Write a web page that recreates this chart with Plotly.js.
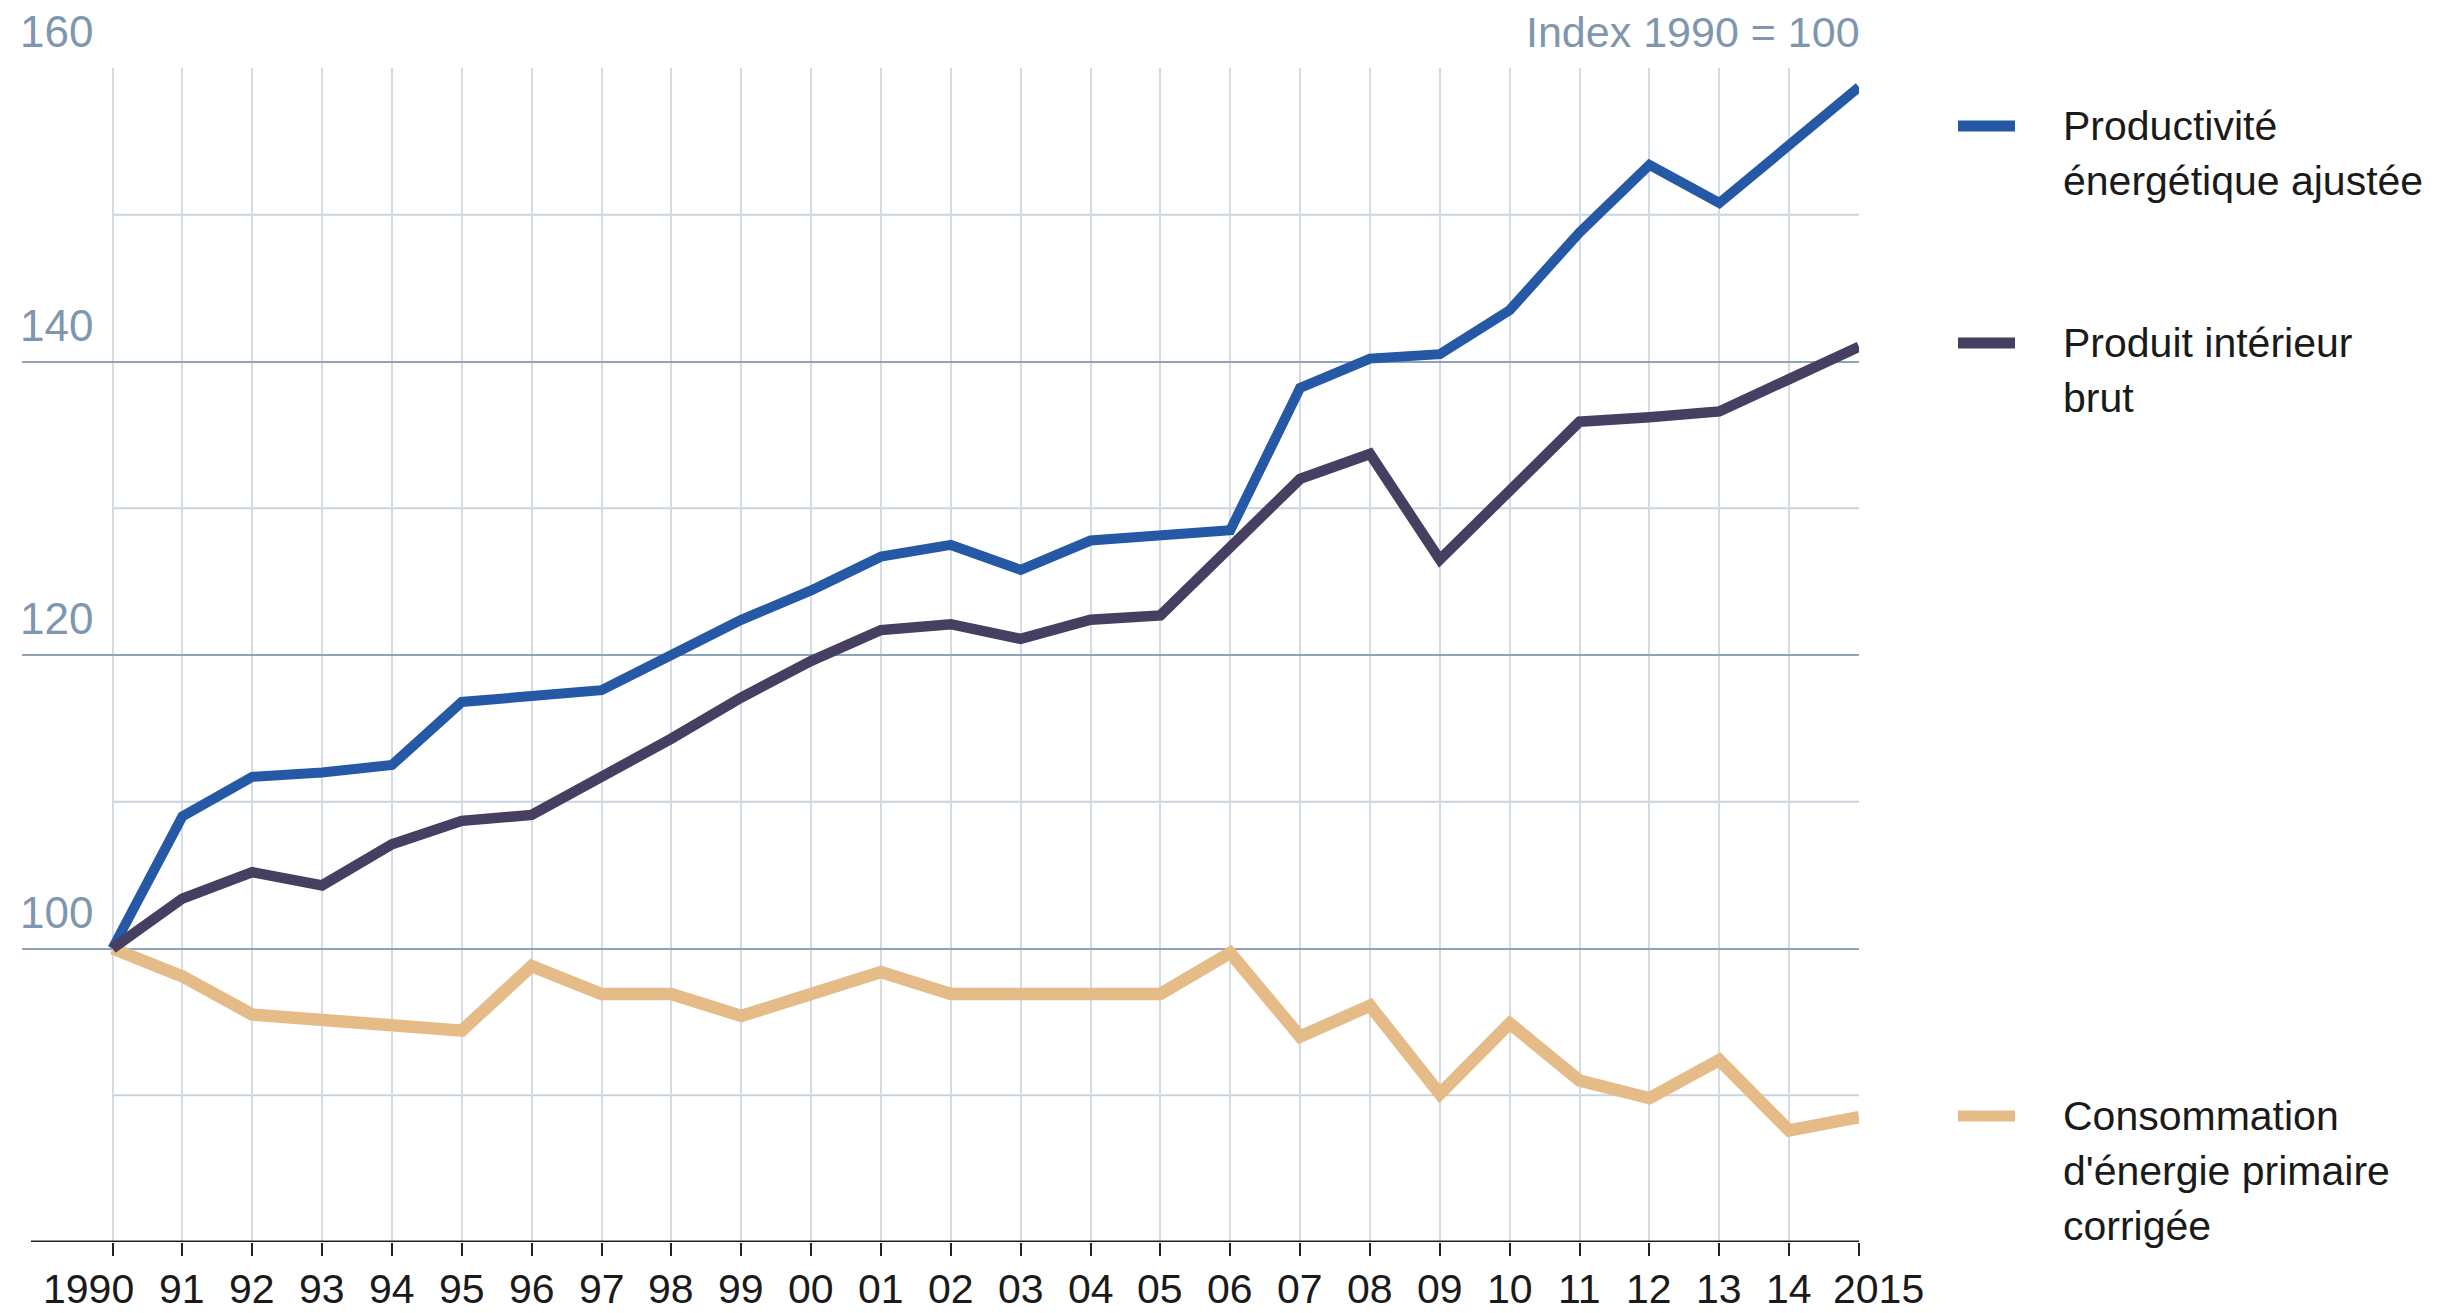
<!DOCTYPE html>
<html>
<head>
<meta charset="utf-8">
<script src="https://cdn.plot.ly/plotly-3.0.1.min.js"></script>
<style>
  html, body { margin: 0; padding: 0; background: #ffffff; }
  #chart { width: 2450px; height: 1313px; }
</style>
</head>
<body>
<div id="chart"></div>
<script>
// ---- Data ----
const years = [1990,1991,1992,1993,1994,1995,1996,1997,1998,1999,2000,2001,2002,2003,2004,2005,2006,2007,2008,2009,2010,2011,2012,2013,2014,2015];
const xTickLabels = ['1990','91','92','93','94','95','96','97','98','99','00','01','02','03','04','05','06','07','08','09','10','11','12','13','14','2015'];
const productivite = [100,109.0,111.7,112.0,112.5,116.8,117.2,117.6,120.0,122.4,124.4,126.7,127.5,125.8,127.8,128.1,128.5,138.2,140.2,140.5,143.5,148.8,153.4,150.8,154.8,158.7];
const pib = [100,103.4,105.2,104.3,107.1,108.7,109.1,111.6,114.3,117.1,119.6,121.7,122.1,121.1,122.4,122.7,127.4,132.0,133.7,126.5,131.2,135.9,136.2,136.6,138.8,141.0];
const consommation = [100,98.1,95.5,95.1,94.7,94.4,98.8,96.9,96.9,95.4,96.9,98.4,96.9,96.9,96.9,96.9,99.7,94.0,96.1,90.1,94.9,91.0,89.8,92.4,87.6,88.5];
const yMajorTicks = [100,120,140,160];
const yMinorLines = [90,110,130,150];
const seriesNames = [
  ['Productivité', 'énergétique ajustée'],
  ['Produit intérieur', 'brut'],
  ['Consommation', 'd\'énergie primaire', 'corrigée']
];
const unitLabel = 'Index 1990 = 100';

// ---- Styling / geometry ----
const W = 2450, H = 1313;
const M = {l: 22, r: 591, t: 68, b: 71};
const plotW = W - M.l - M.r, plotH = H - M.t - M.b;
const px2x = p => (p - M.l) / plotW;          // pixel -> paper x
const py2y = p => (H - M.b - p) / plotH;      // pixel -> paper y

const FONT = 'Liberation Sans, Arimo, Arial, sans-serif';
const C_BLUE = '#2558a5', C_DARK = '#463f62', C_ORANGE = '#e5bc88';
const C_LABEL = '#7f97ae', C_MAJOR = '#8fa3b8', C_MINOR = '#c9d3de', C_VGRID = '#d3dbe5';

const traces = [
  {x: years, y: consommation, mode: 'lines', line: {color: C_ORANGE, width: 12.5}, hoverinfo: 'skip', showlegend: false},
  {x: years, y: productivite, mode: 'lines', line: {color: C_BLUE, width: 10}, hoverinfo: 'skip', showlegend: false},
  {x: years, y: pib, mode: 'lines', line: {color: C_DARK, width: 10.5}, hoverinfo: 'skip', showlegend: false}
];

const shapes = [];
yMinorLines.forEach(v => shapes.push({type: 'line', xref: 'x', yref: 'y', x0: years[0], x1: years[years.length-1], y0: v, y1: v, line: {color: C_MINOR, width: 2}, layer: 'below'}));
// x axis baseline
shapes.push({type: 'line', xref: 'paper', yref: 'y', x0: px2x(31), x1: 1, y0: 80, y1: 80, line: {color: '#222222', width: 3}, layer: 'above'});
// legend swatches
const swatchColors = [C_BLUE, C_DARK, C_ORANGE];
const swatchY = [126, 343, 1116];
swatchColors.forEach((c, i) => shapes.push({type: 'line', xref: 'paper', yref: 'paper', x0: px2x(1958), x1: px2x(2015), y0: py2y(swatchY[i]), y1: py2y(swatchY[i]), line: {color: c, width: 11}}));

const annotations = [];
yMajorTicks.forEach(v => annotations.push({xref: 'paper', yref: 'y', x: 0, y: v, text: String(v), showarrow: false, xanchor: 'left', yanchor: 'bottom', yshift: 10, xshift: -4, font: {family: FONT, size: 44, color: C_LABEL}}));
annotations.push({xref: 'paper', yref: 'paper', x: 1, y: 1, text: unitLabel, showarrow: false, xanchor: 'right', yanchor: 'bottom', yshift: 10, xshift: 3, font: {family: FONT, size: 43, color: C_LABEL}});
// x tick labels (first and last nudged outward as in the reference)
xTickLabels.forEach((t, i) => {
  let xs = 0;
  if (i === 0) xs = -24;
  if (i === xTickLabels.length - 1) xs = 19;
  annotations.push({xref: 'x', yref: 'paper', x: years[i], y: 0, text: t, showarrow: false,
    xanchor: 'center', yanchor: 'top', xshift: xs, yshift: -22,
    font: {family: FONT, size: 41, color: '#1a1a1a'}});
});
const legendLineSpacing = 55;
seriesNames.forEach((lines, i) => lines.forEach((t, j) => annotations.push({
  xref: 'paper', yref: 'paper', x: px2x(2061), y: py2y(swatchY[i] + j * legendLineSpacing),
  text: t, showarrow: false, xanchor: 'left', yanchor: 'middle', align: 'left',
  font: {family: FONT, size: 41, color: '#1a1a1a'}
})));

const layout = {
  width: W, height: H,
  margin: M,
  paper_bgcolor: '#ffffff', plot_bgcolor: '#ffffff',
  showlegend: false,
  xaxis: {
    range: [years[0] - (112.5 - M.l) / ((1859 - 112.5) / 25), years[years.length-1]],
    tickvals: years, showticklabels: false,
    ticks: 'outside', ticklen: 13, tickwidth: 2, tickcolor: '#222222',
    showgrid: true, gridcolor: C_VGRID, gridwidth: 2,
    showline: false, zeroline: false
  },
  yaxis: {
    range: [80, 160],
    tickvals: yMajorTicks, showticklabels: false, ticks: '',
    showgrid: true, gridcolor: C_MAJOR, gridwidth: 2,
    showline: false, zeroline: false
  },
  shapes: shapes,
  annotations: annotations
};

Plotly.newPlot('chart', traces, layout, {staticPlot: true, displayModeBar: false});
</script>
</body>
</html>
